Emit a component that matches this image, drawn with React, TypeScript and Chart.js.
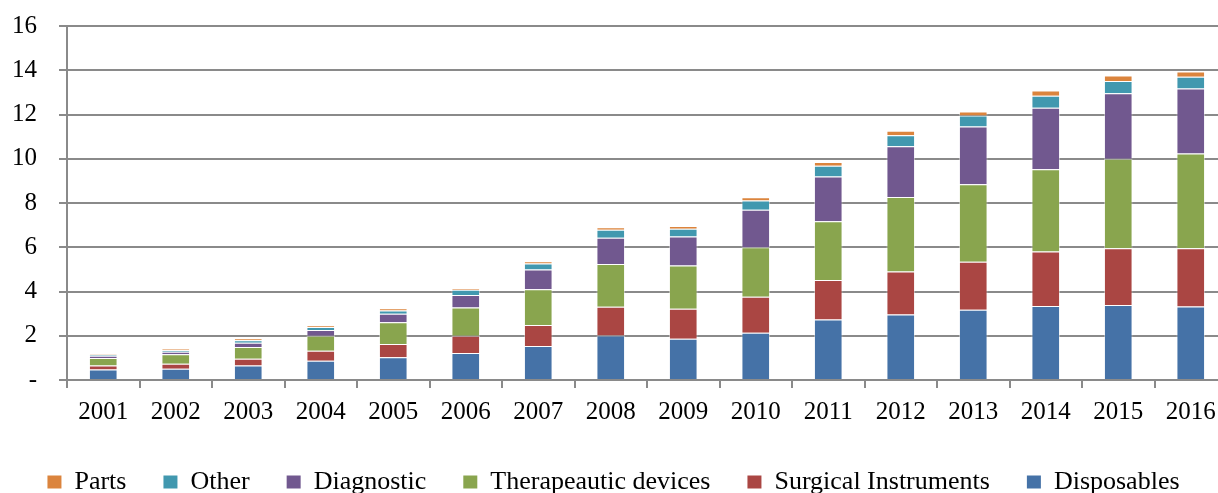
import React, { useEffect, useRef } from 'react';
import { Chart, registerables } from 'chart.js';

Chart.register(...registerables);

const years = ['2001', '2002', '2003', '2004', '2005', '2006', '2007', '2008', '2009', '2010', '2011', '2012', '2013', '2014', '2015', '2016'];
const disposables = [0.47, 0.51, 0.66, 0.87, 1.03, 1.22, 1.54, 2.01, 1.87, 2.13, 2.73, 2.96, 3.18, 3.35, 3.39, 3.32];
const surgical = [0.19, 0.23, 0.30, 0.45, 0.60, 0.78, 0.95, 1.30, 1.35, 1.63, 1.79, 1.94, 2.16, 2.46, 2.57, 2.64];
const therapeutic = [0.33, 0.42, 0.53, 0.68, 0.98, 1.28, 1.61, 1.93, 1.96, 2.24, 2.66, 3.37, 3.51, 3.71, 4.04, 4.28];
const diagnostic = [0.11, 0.12, 0.19, 0.26, 0.38, 0.56, 0.90, 1.19, 1.31, 1.70, 2.02, 2.30, 2.61, 2.79, 2.96, 2.93];
const other = [0.04, 0.07, 0.12, 0.13, 0.15, 0.24, 0.27, 0.36, 0.35, 0.41, 0.48, 0.49, 0.49, 0.54, 0.55, 0.54];
const parts = [0.03, 0.05, 0.08, 0.09, 0.10, 0.06, 0.10, 0.11, 0.12, 0.15, 0.17, 0.21, 0.19, 0.24, 0.25, 0.23];

const FONT = "'Liberation Serif', 'Times New Roman', serif";

export default function App() {
  const ref = useRef<HTMLCanvasElement | null>(null);

  useEffect(() => {
    if (!ref.current) return;
    const mk = (label: string, data: number[], color: string) => ({
      label,
      data,
      backgroundColor: color,
      borderColor: 'rgba(255,255,255,0.45)',
      borderWidth: 1,
      categoryPercentage: 1,
      barPercentage: 0.395,
    });
    const baseGen = (Chart.defaults as any).plugins.legend.labels.generateLabels;
    const chart = new Chart(ref.current, {
      type: 'bar',
      data: {
        labels: years,
        datasets: [
          mk('Disposables', disposables, '#4572A7'),
          mk('Surgical Instruments', surgical, '#AA4643'),
          mk('Therapeautic devices', therapeutic, '#89A54E'),
          mk('Diagnostic', diagnostic, '#71588F'),
          mk('Other', other, '#4198AF'),
          mk('Parts', parts, '#DB843D'),
        ],
      },
      options: {
        animation: false,
        responsive: true,
        maintainAspectRatio: false,
        layout: { padding: { top: 26, right: 5, left: 0, bottom: 0 } },
        plugins: {
          tooltip: { enabled: false },
          legend: {
            position: 'bottom',
            reverse: true,
            labels: {
              boxWidth: 14,
              boxHeight: 13,
              padding: 37,
              color: '#000',
              font: { family: FONT, size: 26 },
              generateLabels: (c: any) =>
                baseGen(c).map((l: any) => ({ ...l, lineWidth: 0, strokeStyle: 'rgba(0,0,0,0)' })),
            },
          },
        },
        scales: {
          x: {
            stacked: true,
            afterFit: (s: any) => {
              s.height = 52;
              s.paddingLeft = 0;
              s.paddingRight = 0;
            },
            grid: {
              offset: true,
              drawOnChartArea: false,
              drawTicks: true,
              tickLength: 8,
              color: '#8a8a8a',
              lineWidth: 2,
            },
            border: { color: '#8a8a8a', width: 2 },
            ticks: {
              color: '#000',
              padding: 9,
              maxRotation: 0,
              autoSkip: false,
              font: { family: FONT, size: 25 },
            },
          },
          y: {
            stacked: true,
            min: 0,
            max: 16,
            afterFit: (s: any) => {
              s.width = 67;
              s.paddingTop = 0;
              s.paddingBottom = 0;
            },
            grid: {
              color: '#8a8a8a',
              lineWidth: 2,
              tickLength: 8,
            },
            border: { color: '#8a8a8a', width: 2 },
            ticks: {
              stepSize: 2,
              color: '#000',
              padding: 22,
              font: { family: FONT, size: 25 },
              callback: (v: any) => (Number(v) === 0 ? '-' : String(v)),
            },
          },
        },
      },
    });
    return () => chart.destroy();
  }, []);

  return (
    <div style={{ position: 'fixed', left: 0, top: 0, width: 1218, height: 493, overflow: 'hidden', background: '#fff' }}>
      <div style={{ position: 'absolute', left: 0, top: 0, width: 1232, height: 505 }}>
        <canvas ref={ref} />
      </div>
    </div>
  );
}
